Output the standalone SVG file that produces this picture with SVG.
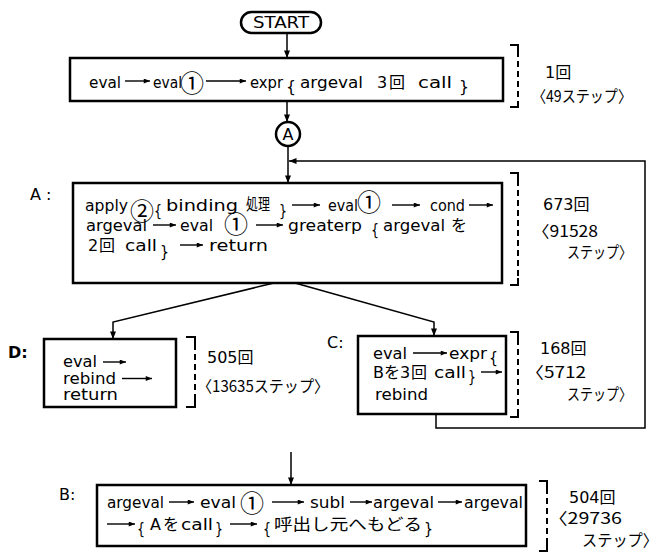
<svg xmlns="http://www.w3.org/2000/svg" width="661" height="559" viewBox="0 0 661 559">
<style>
.t{font-family:"DejaVu Sans","Noto Sans CJK JP",sans-serif;font-size:16px;fill:#000}
.j{font-family:"Noto Sans CJK JP",sans-serif}
.c{font-family:"Noto Sans CJK JP",sans-serif;font-size:24px;text-anchor:middle}
.box{fill:#fff;stroke:#000;stroke-width:2.5}
.con{fill:none;stroke:#000;stroke-width:1.5}
.ta{fill:none;stroke:#000;stroke-width:1.4;marker-end:url(#tah)}
.tick{fill:none;stroke:#000;stroke-width:2}
.br{fill:none;stroke:#000;stroke-width:2;stroke-dasharray:6 4}
</style>
<defs>
<marker id="ah" viewBox="0 0 10 8" refX="10" refY="4" markerWidth="8" markerHeight="6" markerUnits="userSpaceOnUse" orient="auto"><path d="M0,0 L10,4 L0,8 z" fill="#000"/></marker>
<marker id="tah" viewBox="0 0 10 8" refX="10" refY="4" markerWidth="7" markerHeight="5" markerUnits="userSpaceOnUse" orient="auto"><path d="M0,0 L10,4 L0,8 z" fill="#000"/></marker>
</defs>
<rect width="661" height="559" fill="#fff"/>

<g id="start">
<rect class="box" x="241" y="12" width="80" height="21" rx="10.5" stroke-width="2"/>
<text class="t" x="281" y="28" font-size="15" text-anchor="middle" textLength="56" lengthAdjust="spacingAndGlyphs">START</text>
</g>

<g id="n-main">
<rect class="box" x="70" y="58" width="433" height="43"/>
<text class="t" x="89" y="88" textLength="32" lengthAdjust="spacingAndGlyphs">eval</text>
<path class="ta" d="M125 81 H150"/>
<text class="t" x="153" y="88" textLength="29" lengthAdjust="spacingAndGlyphs">eval</text>
<text class="c" x="192" y="92">①</text>
<path class="ta" d="M206 81 H246"/>
<text class="t" x="250" y="88" textLength="33" lengthAdjust="spacingAndGlyphs">expr</text>
<text class="t" x="286" y="92" font-size="36" textLength="10" lengthAdjust="spacingAndGlyphs">{</text>
<text class="t" x="300" y="88" textLength="63" lengthAdjust="spacingAndGlyphs">argeval</text>
<text class="t" x="377" y="88">3</text>
<text class="t j" x="389" y="88" font-size="15">回</text>
<text class="t" x="418" y="88" textLength="34" lengthAdjust="spacingAndGlyphs">call</text>
<text class="t" x="459" y="92" font-size="36" textLength="10" lengthAdjust="spacingAndGlyphs">}</text>
</g>
<g id="ann-main">
<path class="tick" d="M510 45 H518 V51 M518 101 V107 H510"/>
<path class="br" d="M518 51 V101"/>
<text class="t" x="545" y="78" font-size="17">1<tspan class="j">回</tspan></text>
<text class="t j" x="532" y="102" font-size="17" textLength="100" lengthAdjust="spacingAndGlyphs">〈49ステップ〉</text>
</g>

<g id="conn-A">
<circle class="box" cx="288" cy="134" r="12" stroke-width="2"/>
<text class="t" x="288" y="140" text-anchor="middle">A</text>
</g>

<g id="node-A">
<text class="t" x="30" y="200" font-size="17">A :</text>
<rect class="box" x="73" y="183" width="429" height="100"/>
<text class="t" x="85" y="211" textLength="43" lengthAdjust="spacingAndGlyphs">apply</text>
<text class="c" x="142" y="220">②</text>
<text class="t" x="154" y="216" font-size="24" textLength="8" lengthAdjust="spacingAndGlyphs">{</text>
<text class="t" x="166" y="211" textLength="72" lengthAdjust="spacingAndGlyphs">binding</text>
<text class="t j" x="246" y="210" font-size="15" textLength="24" lengthAdjust="spacingAndGlyphs">処理</text>
<text class="t" x="279" y="216" font-size="24" textLength="8" lengthAdjust="spacingAndGlyphs">}</text>
<path class="ta" d="M292 205 H320"/>
<text class="t" x="328" y="211" textLength="30" lengthAdjust="spacingAndGlyphs">eval</text>
<text class="c" x="369" y="211">①</text>
<path class="ta" d="M392 205 H420"/>
<text class="t" x="430" y="211" textLength="35" lengthAdjust="spacingAndGlyphs">cond</text>
<path class="ta" d="M469 205 H493"/>
<text class="t" x="86" y="231" textLength="61" lengthAdjust="spacingAndGlyphs">argeval</text>
<path class="ta" d="M153 225 H176"/>
<text class="t" x="180" y="231" textLength="33" lengthAdjust="spacingAndGlyphs">eval</text>
<text class="c" x="236" y="233">①</text>
<path class="ta" d="M256 225 H283"/>
<text class="t" x="288" y="231" textLength="74" lengthAdjust="spacingAndGlyphs">greaterp</text>
<text class="t" x="371" y="235" font-size="24" textLength="8" lengthAdjust="spacingAndGlyphs">{</text>
<text class="t" x="383" y="231" textLength="62" lengthAdjust="spacingAndGlyphs">argeval</text>
<text class="t j" x="451" y="231" font-size="15">を</text>
<text class="t" x="88" y="251">2</text>
<text class="t j" x="99" y="251" font-size="15">回</text>
<text class="t" x="125" y="251" textLength="32" lengthAdjust="spacingAndGlyphs">call</text>
<text class="t" x="160" y="257" font-size="26" textLength="9" lengthAdjust="spacingAndGlyphs">}</text>
<path class="ta" d="M180 245 H203"/>
<text class="t" x="209" y="251" textLength="59" lengthAdjust="spacingAndGlyphs">return</text>
</g>
<g id="ann-A">
<path class="tick" d="M510 173 H518 V180 M518 278 V285 H510"/>
<path class="br" d="M518 180 V278"/>
<text class="t" x="543" y="210" font-size="18">673<tspan class="j">回</tspan></text>
<text class="t j" x="532" y="237" font-size="18" textLength="66" lengthAdjust="spacingAndGlyphs">〈91528</text>
<text class="t j" x="567" y="258" font-size="17" textLength="65" lengthAdjust="spacingAndGlyphs">ステップ〉</text>
</g>

<g id="node-D">
<text class="t" x="8" y="358" font-size="18" font-weight="bold">D:</text>
<rect class="box" x="44" y="339" width="132" height="68"/>
<text class="t" x="63" y="367" font-size="14" textLength="34" lengthAdjust="spacingAndGlyphs">eval</text>
<path class="ta" d="M103 362 H126"/>
<text class="t" x="63" y="383.5" font-size="14" textLength="53" lengthAdjust="spacingAndGlyphs">rebind</text>
<path class="ta" d="M122 378.5 H152"/>
<text class="t" x="63" y="400" font-size="14" textLength="55" lengthAdjust="spacingAndGlyphs">return</text>
</g>
<g id="ann-D">
<path class="tick" d="M186 337 H195 V344 M195 400 V407 H186"/>
<path class="br" d="M195 344 V400"/>
<text class="t" x="207" y="363" font-size="17">505<tspan class="j">回</tspan></text>
<text class="t j" x="197" y="392" font-size="17" textLength="132" lengthAdjust="spacingAndGlyphs">〈13635ステップ〉</text>
</g>

<g id="node-C">
<text class="t" x="327" y="348" font-size="17">C:</text>
<rect class="box" x="358" y="336" width="148" height="78"/>
<text class="t" x="373" y="359" textLength="34" lengthAdjust="spacingAndGlyphs">eval</text>
<path class="ta" d="M413 353 H447"/>
<text class="t" x="449" y="359" textLength="38" lengthAdjust="spacingAndGlyphs">expr</text>
<text class="t" x="489" y="363" font-size="24" textLength="9" lengthAdjust="spacingAndGlyphs">{</text>
<text class="t" x="373" y="378">B</text>
<text class="t j" x="384" y="378" font-size="15">を</text>
<text class="t" x="400" y="378">3</text>
<text class="t j" x="411" y="378" font-size="15">回</text>
<text class="t" x="434" y="378" textLength="32" lengthAdjust="spacingAndGlyphs">call</text>
<text class="t" x="468" y="382" font-size="24" textLength="8" lengthAdjust="spacingAndGlyphs">}</text>
<path class="ta" d="M481 372 H502"/>
<text class="t" x="375" y="400" textLength="53" lengthAdjust="spacingAndGlyphs">rebind</text>
</g>
<g id="ann-C">
<path class="tick" d="M510 332 H518 V339 M518 410 V417 H510"/>
<path class="br" d="M518 339 V410"/>
<text class="t" x="540" y="354" font-size="17">168<tspan class="j">回</tspan></text>
<text class="t j" x="525" y="378" font-size="18" textLength="61" lengthAdjust="spacingAndGlyphs">〈5712</text>
<text class="t j" x="567" y="400" font-size="17" textLength="65" lengthAdjust="spacingAndGlyphs">ステップ〉</text>
</g>

<g id="node-B">
<text class="t" x="59" y="500" font-size="17">B:</text>
<rect class="box" x="97" y="485" width="429" height="61"/>
<text class="t" x="107" y="508" textLength="57" lengthAdjust="spacingAndGlyphs">argeval</text>
<path class="ta" d="M169 502 H194"/>
<text class="t" x="200" y="508" textLength="36" lengthAdjust="spacingAndGlyphs">eval</text>
<text class="c" x="252" y="512">①</text>
<path class="ta" d="M272 502 H304"/>
<text class="t" x="310" y="508" textLength="35" lengthAdjust="spacingAndGlyphs">subl</text>
<path class="ta" d="M350 502 H372"/>
<text class="t" x="373" y="508" textLength="61" lengthAdjust="spacingAndGlyphs">argeval</text>
<path class="ta" d="M438 502 H462"/>
<text class="t" x="464" y="508" textLength="59" lengthAdjust="spacingAndGlyphs">argeval</text>
<path class="ta" d="M107 524 H135"/>
<text class="t" x="137" y="534" font-size="26" textLength="8" lengthAdjust="spacingAndGlyphs">{</text>
<text class="t" x="150" y="530">A</text>
<text class="t j" x="163" y="530">を</text>
<text class="t" x="181" y="530" textLength="32" lengthAdjust="spacingAndGlyphs">call</text>
<text class="t" x="215" y="534" font-size="26" textLength="8" lengthAdjust="spacingAndGlyphs">}</text>
<path class="ta" d="M230 524 H257"/>
<text class="t" x="263" y="534" font-size="26" textLength="8" lengthAdjust="spacingAndGlyphs">{</text>
<text class="t j" x="274" y="530" font-size="17" textLength="148" lengthAdjust="spacingAndGlyphs">呼出し元へもどる</text>
<text class="t" x="424" y="534" font-size="26" textLength="9" lengthAdjust="spacingAndGlyphs">}</text>
</g>
<g id="ann-B">
<path class="tick" d="M539 481 H547 V488 M547 544 V551 H539"/>
<path class="br" d="M547 488 V544"/>
<text class="t" x="569" y="503" font-size="17">504<tspan class="j">回</tspan></text>
<text class="t j" x="548" y="524" font-size="17" textLength="74" lengthAdjust="spacingAndGlyphs">〈29736</text>
<text class="t j" x="582" y="546" font-size="17" textLength="76" lengthAdjust="spacingAndGlyphs">ステップ〉</text>
</g>

<g id="connectors" class="con">
<path d="M287 33 V58" marker-end="url(#ah)"/>
<path d="M287 101 V122" marker-end="url(#ah)"/>
<path d="M288 146 V183" marker-end="url(#ah)"/>
<path d="M274 283 L113 322 V339" marker-end="url(#ah)"/>
<path d="M295 283 L434 322 V336" marker-end="url(#ah)"/>
<path d="M436 414 V428 H645 V161 H289" marker-end="url(#ah)"/>
<path d="M291 452 V485" marker-end="url(#ah)"/>
</g>
</svg>
